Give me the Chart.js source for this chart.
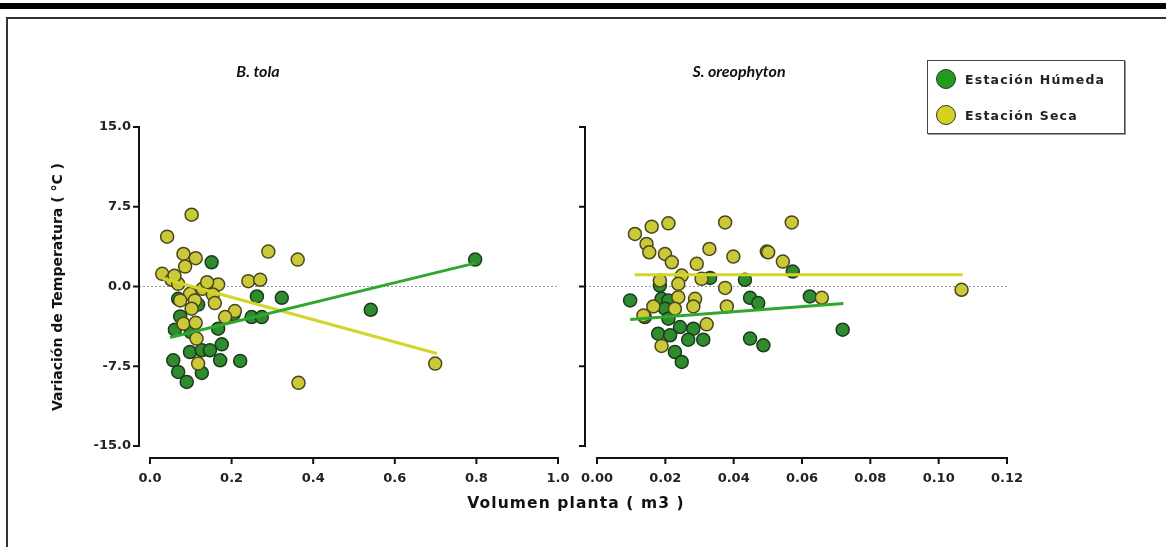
<!DOCTYPE html>
<html><head><meta charset="utf-8">
<script src="https://cdn.jsdelivr.net/npm/chart.js@4/dist/chart.umd.min.js"></script>
<style>
html,body{margin:0;padding:0;background:#fff;}
#wrap{position:relative;width:1166px;height:547px;overflow:hidden;background:#fff;}
canvas{position:absolute;left:0;top:0;}
.topbar{position:absolute;left:0;top:3px;width:1166px;height:6px;background:#000;}
.frame{position:absolute;left:6px;top:17px;width:1200px;height:600px;border-top:2px solid #333;border-left:2px solid #333;}
.ptitle{position:absolute;top:61px;font:italic bold 16px Lato,"Open Sans",sans-serif;color:#111;white-space:nowrap;transform:translateX(-50%);}
.ytitle{position:absolute;left:57px;top:287px;font:bold 14px "DejaVu Sans",sans-serif;color:#111;white-space:nowrap;transform:translate(-50%,-50%) rotate(-90deg);}
.xtitle{position:absolute;left:576px;top:503px;font:bold 15.5px "DejaVu Sans",sans-serif;letter-spacing:1.1px;color:#111;white-space:nowrap;transform:translate(-50%,-50%);}
.legend{position:absolute;left:927px;top:60px;width:196px;height:72px;border:1px solid #444;box-shadow:1px 1px 0 #999;background:#fff;}
.item{position:absolute;left:8px;height:22px;display:flex;align-items:center;font:bold 12.5px "DejaVu Sans",sans-serif;letter-spacing:1.2px;color:#222;white-space:nowrap;}
.dot{display:inline-block;width:20px;height:20px;border-radius:50%;border:1.5px solid #333;margin-right:9px;box-sizing:border-box;}
</style>
</head><body>
<div id="wrap">
<div class="topbar"></div>
<div class="frame"></div>
<canvas id="c1" width="1166" height="547"></canvas>
<canvas id="c2" width="1166" height="547"></canvas>
<div class="ptitle" style="left:258px">B. tola</div>
<div class="ptitle" style="left:739px">S. oreophyton</div>
<div class="ytitle">Variación de Temperatura ( °C )</div>
<div class="xtitle">Volumen planta ( m3 )</div>
<div class="legend">
  <div class="item" style="top:7px"><span class="dot" style="background:#1f9b1f"></span>Estación Húmeda</div>
  <div class="item" style="top:43px"><span class="dot" style="background:#d3d31f"></span>Estación Seca</div>
</div>
</div>
<script>
// ---- Data ----
const seriesNames = ['Estación Húmeda', 'Estación Seca'];
const panelTitles = ['B. tola', 'S. oreophyton'];

// B. tola – Estación Húmeda
const tolaHumedaX = [0.151,0.262,0.323,0.069,0.074,0.061,0.167,0.249,0.274,0.176,0.098,0.127,0.147,0.057,0.172,0.221,0.069,0.127,0.090,0.797,0.541,0.118,0.205,0.100];
const tolaHumedaY = [2.28,-0.94,-1.06,-1.16,-2.81,-4.06,-3.97,-2.88,-2.88,-5.44,-6.16,-6.00,-6.00,-6.94,-6.94,-7.00,-8.03,-8.13,-8.97,2.53,-2.19,-1.70,-2.60,-4.30];
// B. tola – Estación Seca
const tolaSecaX = [0.102,0.042,0.082,0.112,0.086,0.030,0.290,0.362,0.241,0.270,0.167,0.129,0.098,0.154,0.074,0.110,0.159,0.102,0.208,0.184,0.082,0.112,0.114,0.118,0.364,0.053,0.069,0.699,0.140,0.060];
const tolaSecaY = [6.75,4.69,3.06,2.66,1.87,1.19,3.28,2.53,0.50,0.63,0.19,-0.22,-0.69,-0.75,-1.31,-1.31,-1.56,-2.09,-2.31,-2.88,-3.50,-3.41,-4.90,-7.25,-9.06,0.63,0.25,-7.25,0.40,1.00];
// S. oreophyton – Estación Húmeda
const oreoHumedaX = [0.0097,0.0189,0.0209,0.0331,0.0433,0.0448,0.0472,0.0184,0.0199,0.0140,0.0209,0.0243,0.0282,0.0179,0.0214,0.0267,0.0311,0.0228,0.0248,0.0448,0.0487,0.0573,0.0623,0.0719];
const oreoHumedaY = [-1.31,-1.16,-1.31,0.81,0.63,-1.06,-1.56,0.09,-2.09,-2.88,-3.03,-3.81,-3.97,-4.44,-4.59,-5.00,-5.00,-6.16,-7.10,-4.90,-5.53,1.41,-0.94,-4.06];
// S. oreophyton – Estación Seca
const oreoSecaX = [0.0111,0.0160,0.0209,0.0375,0.0145,0.0153,0.0199,0.0219,0.0329,0.0399,0.0497,0.0292,0.0248,0.0306,0.0184,0.0238,0.0375,0.0238,0.0287,0.0165,0.0228,0.0282,0.0380,0.0136,0.0321,0.0189,0.0570,0.0501,0.0544,0.0658,0.1067];
const oreoSecaY = [4.94,5.63,5.94,6.03,4.00,3.22,3.06,2.28,3.53,2.81,3.28,2.13,1.03,0.72,0.56,0.25,-0.13,-1.00,-1.16,-1.88,-2.09,-1.88,-1.88,-2.72,-3.56,-5.59,6.03,3.22,2.34,-1.06,-0.31];

// Regression lines (endpoints)
const tolaFitHumedaX = [0.049, 0.797];
const tolaFitHumedaY = [-4.8, 2.2];
const tolaFitSecaX = [0.032, 0.703];
const tolaFitSecaY = [0.75, -6.3];
const oreoFitHumedaX = [0.0097, 0.0721];
const oreoFitHumedaY = [-3.1, -1.6];
const oreoFitSecaX = [0.011, 0.107];
const oreoFitSecaY = [1.1, 1.1];

// Axis ticks
const yTicks = [-15, -7.5, 0, 7.5, 15];
const tolaXTicks = [0, 0.2, 0.4, 0.6, 0.8, 1.0];
const oreoXTicks = [0, 0.02, 0.04, 0.06, 0.08, 0.10, 0.12];

// ---- Styles ----
const GREEN_FILL = '#2e8c2e', GREEN_EDGE = '#1c3a1c', GREEN_LINE = '#2fa82f';
const YEL_FILL = '#c9c93a', YEL_EDGE = '#4a461c', YEL_LINE = '#d4d42a';
const TICK_FONT = {family: 'DejaVu Sans', size: 13, weight: 'bold'};

function pts(xs, ys){ return xs.map((x,i)=>({x, y: ys[i]})); }

const offsetAxes = {
  id: 'offsetAxes',
  beforeDatasetsDraw(chart, args, o){
    const {ctx, chartArea: a, scales: {y}} = chart;
    const py = y.getPixelForValue(0);
    ctx.save();
    ctx.strokeStyle = '#9a9aa8'; ctx.lineWidth = 1; ctx.setLineDash([2,2]);
    ctx.beginPath(); ctx.moveTo(a.left - o.yGap, py); ctx.lineTo(a.right, py); ctx.stroke();
    ctx.restore();
  },
  afterDraw(chart, args, o){
    const {ctx, chartArea: a, scales: {x, y}} = chart;
    const yx = a.left - o.yGap, xy = a.bottom + o.xGap;
    ctx.save();
    ctx.strokeStyle = '#111'; ctx.lineWidth = 2; ctx.setLineDash([]);
    const yTop = y.getPixelForValue(y.max), yBot = y.getPixelForValue(y.min);
    ctx.beginPath(); ctx.moveTo(yx, yTop - 1); ctx.lineTo(yx, yBot + 1); ctx.stroke();
    o.yTicks.forEach(v => { const p = y.getPixelForValue(v); ctx.beginPath(); ctx.moveTo(yx - 6, p); ctx.lineTo(yx + 1, p); ctx.stroke(); });
    const xl = x.getPixelForValue(x.min), xr = x.getPixelForValue(x.max);
    ctx.beginPath(); ctx.moveTo(xl - 1, xy); ctx.lineTo(xr + 1, xy); ctx.stroke();
    o.xTicks.forEach(v => { const p = x.getPixelForValue(v); ctx.beginPath(); ctx.moveTo(p, xy - 1); ctx.lineTo(p, xy + 6); ctx.stroke(); });
    ctx.restore();
  }
};

function makePanel(id, cfg){
  const scatter = (label, data, fill, edge, order) => ({
    type: 'scatter', label, data, backgroundColor: fill, borderColor: edge,
    pointRadius: 6.5, pointHoverRadius: 6.5, pointBorderWidth: 1.5, order
  });
  const fit = (label, data, color) => ({
    type: 'line', label, data, borderColor: color, borderWidth: 3,
    pointRadius: 0, fill: false, tension: 0, order: 0
  });
  return new Chart(document.getElementById(id), {
    type: 'scatter',
    data: { datasets: [
      fit('fit ' + seriesNames[0], pts(cfg.fitHX, cfg.fitHY), GREEN_LINE),
      fit('fit ' + seriesNames[1], pts(cfg.fitSX, cfg.fitSY), YEL_LINE),
      scatter(seriesNames[1], pts(cfg.sX, cfg.sY), YEL_FILL, YEL_EDGE, 1),
      scatter(seriesNames[0], pts(cfg.hX, cfg.hY), GREEN_FILL, GREEN_EDGE, 2)
    ]},
    options: {
      responsive: false, animation: false, clip: false,
      layout: { padding: { top: 127, right: cfg.padRight, bottom: 0, left: 0 } },
      plugins: { legend: { display: false }, tooltip: { enabled: false },
        offsetAxes: { yGap: cfg.yGap, xGap: 12, yTicks: yTicks, xTicks: cfg.xTicks } },
      scales: {
        x: { type: 'linear', min: cfg.xMin, max: cfg.xMax,
          afterBuildTicks: s => { s.ticks = cfg.xTicks.map(v => ({value: v})); },
          afterFit: s => { s.height = 101; },
          grid: { display: false, drawTicks: false }, border: { display: false },
          ticks: { font: TICK_FONT, color: '#222', padding: 25, maxRotation: 0,
            callback: v => Number(v).toFixed(cfg.dec) } },
        y: { type: 'linear', min: -15, max: 15,
          afterBuildTicks: s => { s.ticks = yTicks.map(v => ({value: v})); },
          afterFit: s => { s.width = cfg.yWidth; },
          grid: { display: false, drawTicks: false }, border: { display: false },
          ticks: { display: cfg.showYLabels, font: TICK_FONT, color: '#222', padding: 19,
            callback: v => Number(v).toFixed(1) } }
      }
    },
    plugins: [offsetAxes]
  });
}

makePanel('c1', { xMin: 0, xMax: 1.0, dec: 1, xTicks: tolaXTicks, yWidth: 150, padRight: 1166 - 558,
  yGap: 11, showYLabels: true,
  hX: tolaHumedaX, hY: tolaHumedaY, sX: tolaSecaX, sY: tolaSecaY,
  fitHX: tolaFitHumedaX, fitHY: tolaFitHumedaY, fitSX: tolaFitSecaX, fitSY: tolaFitSecaY });

makePanel('c2', { xMin: 0, xMax: 0.12, dec: 2, xTicks: oreoXTicks, yWidth: 597, padRight: 1166 - 1007,
  yGap: 12, showYLabels: false,
  hX: oreoHumedaX, hY: oreoHumedaY, sX: oreoSecaX, sY: oreoSecaY,
  fitHX: oreoFitHumedaX, fitHY: oreoFitHumedaY, fitSX: oreoFitSecaX, fitSY: oreoFitSecaY });
</script>
</body></html>
